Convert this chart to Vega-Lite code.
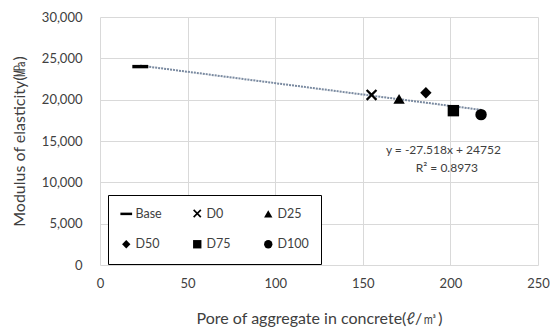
{
  "$schema": "https://vega.github.io/schema/vega-lite/v6.json",
  "width": 438,
  "height": 248,
  "autosize": {"type": "none"},
  "padding": {"left": 100, "top": 17, "right": 12, "bottom": 63},
  "background": "white",
  "config": {
    "font": "Lato",
    "view": {"stroke": null},
    "axis": {"labelFont": "Lato", "titleFont": "Lato", "labelColor": "#404040", "titleColor": "#404040", "titleFontWeight": "normal", "gridColor": "#d9d9d9", "domain": false, "ticks": false, "labelFlush": false}
  },
  "datasets": {
    "pts": [
      {"series": "Base", "pore": 23, "modulus": 24000},
      {"series": "D0", "pore": 155, "modulus": 20570},
      {"series": "D25", "pore": 170.7, "modulus": 20100},
      {"series": "D50", "pore": 186, "modulus": 20840},
      {"series": "D75", "pore": 201.7, "modulus": 18670},
      {"series": "D100", "pore": 217.5, "modulus": 18190}
    ],
    "trend": [
      {"pore": 23, "modulus": 24119},
      {"pore": 217.5, "modulus": 18767}
    ],
    "notes": [
      {"pore": 196, "modulus": 13900, "label": "y = -27.518x + 24752"},
      {"pore": 198, "modulus": 11730, "label": "R² = 0.8973"}
    ]
  },
  "encoding": {
    "x": {"field": "pore", "type": "quantitative", "scale": {"domain": [0, 250], "nice": false},
      "axis": {"values": [0, 50, 100, 150, 200, 250], "format": "d", "title": "Pore of aggregate in concrete(ℓ/㎥)", "labelFontSize": 13, "titleFontSize": 16, "labelPadding": 12, "titlePadding": 20, "grid": true}},
    "y": {"field": "modulus", "type": "quantitative", "scale": {"domain": [0, 30000], "nice": false},
      "axis": {"values": [0, 5000, 10000, 15000, 20000, 25000, 30000], "format": ",d", "title": "Modulus of elasticity(㎫)", "labelFontSize": 13, "titleFontSize": 16, "labelPadding": 18, "titlePadding": 14}}
  },
  "layer": [
    {
      "data": {"name": "trend"},
      "mark": {"type": "line", "color": "#7a8aa0", "strokeWidth": 2, "strokeDash": [2, 1]},
      "encoding": {}
    },
    {
      "data": {"name": "pts"},
      "mark": {"type": "point", "filled": true, "opacity": 1, "size": 130, "color": "black"},
      "encoding": {
        "shape": {
          "field": "series", "type": "nominal",
          "scale": {
            "domain": ["Base", "D0", "D25", "D50", "D75", "D100"],
            "range": [
              "M-1.4,-0.3L1.4,-0.3L1.4,0.3L-1.4,0.3Z",
              "M-1,-0.72L-0.72,-1L0,-0.28L0.72,-1L1,-0.72L0.28,0L1,0.72L0.72,1L0,0.28L-0.72,1L-1,0.72L-0.28,0Z",
              "triangle-up", "diamond", "square", "circle"
            ]
          },
          "legend": {
            "title": null, "orient": "none", "legendX": 8, "legendY": 178, "direction": "horizontal",
            "columns": 3, "gridAlign": "all", "columnPadding": 23, "rowPadding": 16,
            "symbolSize": 70, "symbolFillColor": "black", "symbolStrokeColor": "black",
            "labelFontSize": 12.5, "labelColor": "#404040", "labelFont": "Lato", "labelOffset": 3,
            "padding": 12, "strokeColor": "black", "fillColor": "white"
          }
        }
      }
    },
    {
      "data": {"name": "notes"},
      "mark": {"type": "text", "fontSize": 12, "color": "#404040", "font": "Lato"},
      "encoding": {
        "text": {"field": "label", "type": "nominal"}
      }
    }
  ]
}
